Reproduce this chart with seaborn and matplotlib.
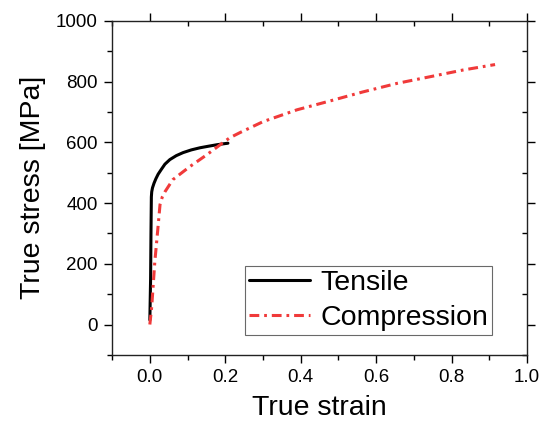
import pandas as pd
import matplotlib.pyplot as plt
import seaborn as sns
from matplotlib.ticker import MultipleLocator

# Curves
tensile_strain = [0.0, 0.002, 0.003, 0.004, 0.005, 0.007, 0.011, 0.016, 0.022, 0.03, 0.04, 0.053,
                  0.07, 0.088, 0.11, 0.133, 0.155, 0.178, 0.195, 0.207]
tensile_stress = [15, 150, 300, 420, 437, 450, 465, 480, 495, 510, 528, 543,
                  556, 566, 575, 582, 587, 592, 595, 597]

compression_strain = [0.0, 0.005, 0.013, 0.021, 0.027, 0.033, 0.04, 0.061, 0.085, 0.106, 0.151,
                      0.194, 0.212, 0.239, 0.30, 0.39, 0.477, 0.565, 0.655, 0.743, 0.83, 0.915]
compression_stress = [0, 59, 204, 312, 395, 420, 437, 477, 500, 520, 559,
                      599, 615, 632, 668, 707, 736, 766, 794, 816, 838, 856]

sns.set_theme(style='ticks')
plt.rcParams['font.family'] = ['Liberation Sans', 'DejaVu Sans']
plt.rcParams['text.color'] = 'black'
plt.rcParams['axes.labelcolor'] = 'black'

tensile_df = pd.DataFrame({'strain': tensile_strain, 'stress': tensile_stress})
compression_df = pd.DataFrame({'strain': compression_strain, 'stress': compression_stress})

fig = plt.figure(figsize=(5.39, 4.25), dpi=100)
ax = fig.add_axes([0.208, 0.165, 0.77, 0.786])

sns.lineplot(data=tensile_df, x='strain', y='stress', ax=ax, color='black',
             linewidth=2.2, sort=False, label='Tensile')
sns.lineplot(data=compression_df, x='strain', y='stress', ax=ax, color='#f03a3a',
             linewidth=2.2, sort=False, label='Compression')
# Origin-style short dash-dot
ax.lines[1].set_dashes((3.2, 1.6, 0.9, 1.6))

ax.set_xlim(-0.1, 1.0)
ax.set_ylim(-100, 1000)
ax.xaxis.set_major_locator(MultipleLocator(0.2))
ax.xaxis.set_minor_locator(MultipleLocator(0.1))
ax.yaxis.set_major_locator(MultipleLocator(200))
ax.yaxis.set_minor_locator(MultipleLocator(100))
ax.set_xticks([0.0, 0.2, 0.4, 0.6, 0.8, 1.0])
ax.set_xticklabels(['0.0', '0.2', '0.4', '0.6', '0.8', '1.0'])

for s in ax.spines.values():
    s.set_visible(True)
    s.set_linewidth(1.0)
    s.set_color('#222222')

ax.tick_params(which='both', top=True, right=True, labelsize=13.5, colors='black',
               direction='out')
ax.tick_params(which='major', length=5.5, width=1.0)
ax.tick_params(which='minor', length=3.5, width=1.0)
# top and right mirror ticks point inward, like Origin
for t in ax.xaxis.get_major_ticks() + ax.xaxis.get_minor_ticks():
    t.tick2line.set_marker(3)
for t in ax.yaxis.get_major_ticks() + ax.yaxis.get_minor_ticks():
    t.tick2line.set_marker(0)
ax.tick_params(axis='both', pad=5)

ax.set_xlabel('True strain', fontsize=20.5, labelpad=6)
ax.set_ylabel('True stress [MPa]', fontsize=20.5, labelpad=7)

leg = ax.legend(loc='lower right', bbox_to_anchor=(0.916, 0.06), fontsize=20.5,
                frameon=True, fancybox=False, shadow=False, handlelength=2.15,
                handletextpad=0.35, borderpad=0.15, labelspacing=0.3, borderaxespad=0)
leg.get_frame().set_edgecolor('#444444')
leg.get_frame().set_linewidth(0.8)
leg.get_lines()[1].set_dashes((3.2, 1.6, 0.9, 1.6))

fig.savefig('out.png', dpi=100)
